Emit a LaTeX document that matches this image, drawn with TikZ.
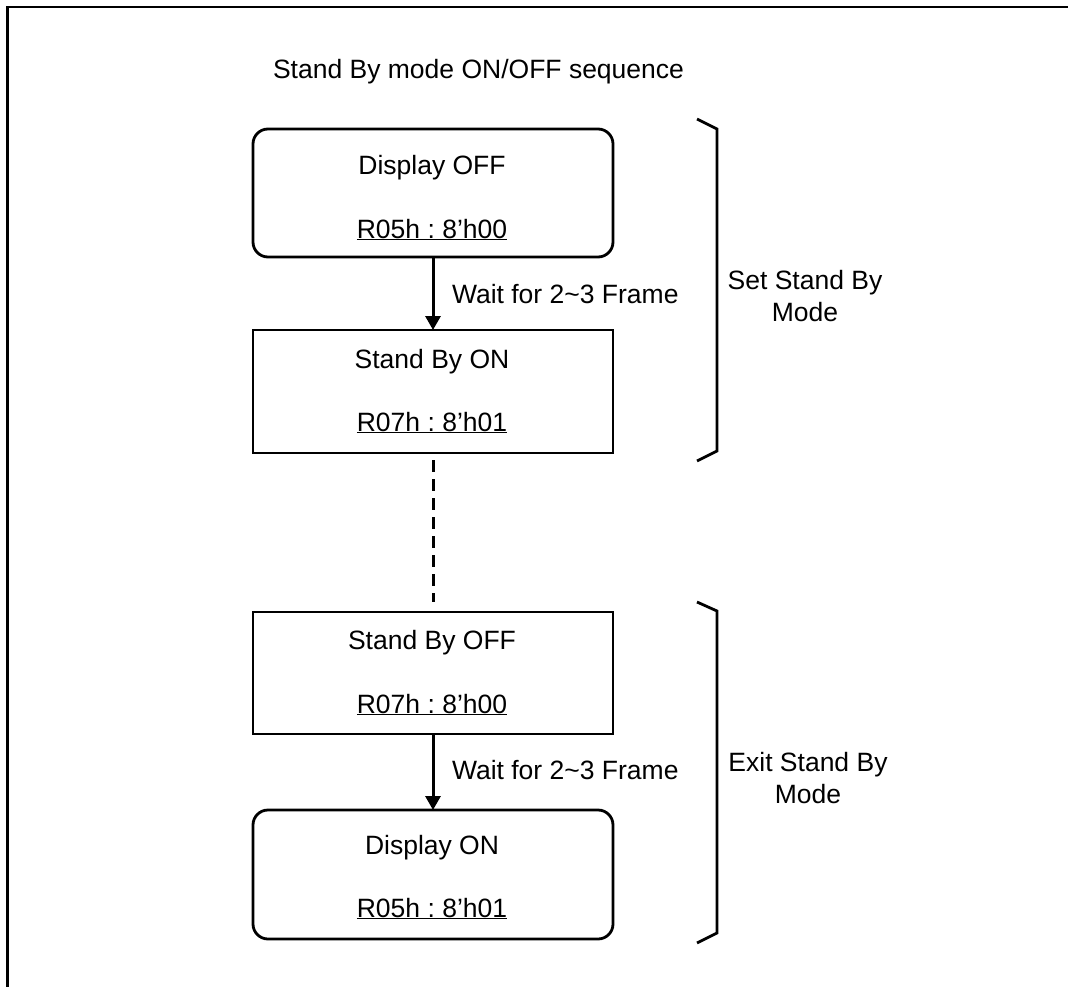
\documentclass[tikz,border=0pt]{standalone}
\usepackage{fontspec}
\setmainfont{Liberation Sans}
\usetikzlibrary{arrows.meta}
\frenchspacing
\begin{document}
\begin{tikzpicture}[x=1pt,y=-1pt,
  every node/.style={inner sep=0pt,outer sep=0pt},
  txt/.style={anchor=base,font=\fontsize{26.5}{32}\selectfont},
  rbox/.style={draw,line width=2.8pt,rounded corners=15pt,minimum width=360pt},
  sbox/.style={draw,line width=2.8pt,minimum width=360pt},
  arr/.style={line width=3pt,-{Triangle[width=15pt,length=14pt]}},
  dashline/.style={line width=3pt,dash pattern=on 12pt off 7pt},
  brace/.style={line width=2.8pt,line join=miter},
  frameline/.style={line width=2.5pt}]
\useasboundingbox (0,0) rectangle (1068,987);
% frame
\draw[frameline] (7.5,990) -- (7.5,7) -- (1070,7);
% title
\node[txt,anchor=base west] (title) at (273,79) {Stand By mode ON/OFF sequence};
% boxes
\node[rbox,minimum height=128pt] (b1) at (433,193) {};
\node[sbox,minimum height=123pt] (b2) at (433,391.5) {};
\node[sbox,minimum height=122pt] (b3) at (433,673) {};
\node[rbox,minimum height=129pt] (b4) at (433,874.5) {};
% box texts
\node[txt] (t1a) at (432,175) {Display OFF};
\node[txt] (t1b) at (432,238) {\underline{R05h : 8’h00}};
\node[txt] (t2a) at (432,368) {Stand By ON};
\node[txt] (t2b) at (432,431) {\underline{R07h : 8’h01}};
\node[txt] (t3a) at (432,649) {Stand By OFF};
\node[txt] (t3b) at (432,713) {\underline{R07h : 8’h00}};
\node[txt] (t4a) at (432,854) {Display ON};
\node[txt] (t4b) at (432,917) {\underline{R05h : 8’h01}};
% connectors
\draw[arr] (b1.south) -- (b2.north);
\draw[arr] (b3.south) -- (b4.north);
\draw[dashline] ([yshift=-7pt]b2.south) -- ([yshift=10pt]b3.north);
\node[txt,anchor=base west] (w1) at (452,303) {Wait for 2\textasciitilde 3 Frame};
\node[txt,anchor=base west] (w2) at (452,779) {Wait for 2\textasciitilde 3 Frame};
% braces
\draw[brace] (697,119) -- (717,129) -- (717,451) -- (697,461);
\draw[brace] (697,602) -- (717,611) -- (717,933) -- (697,943);
\node[txt,anchor=center,align=center] (s1) at (805,296) {Set Stand By\\Mode};
\node[txt,anchor=center,align=center] (s2) at (808,778) {Exit Stand By\\Mode};
\end{tikzpicture}
\end{document}
